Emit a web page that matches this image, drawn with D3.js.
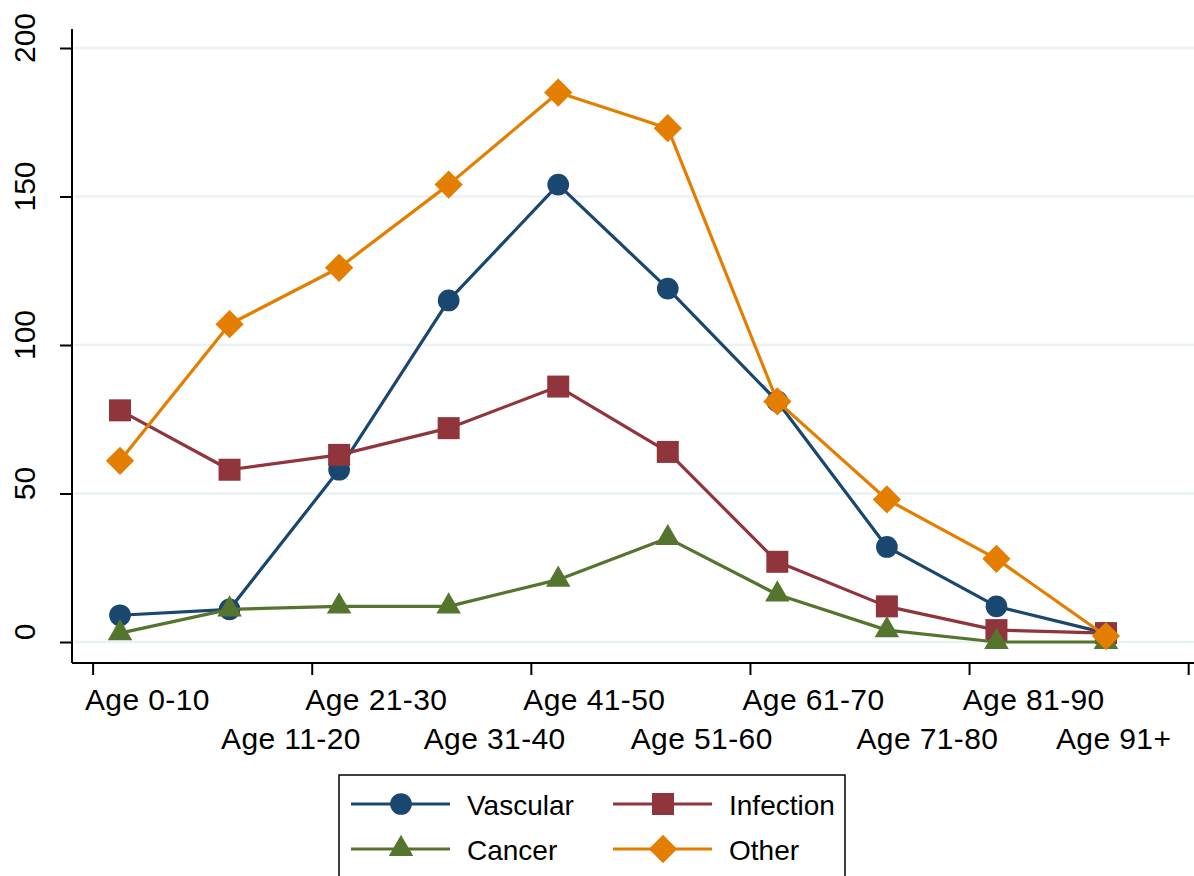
<!DOCTYPE html>
<html><head><meta charset="utf-8">
<script src="https://cdn.jsdelivr.net/npm/d3@7"></script>
<style>body{margin:0;background:#fff}svg{display:block;font-family:"Liberation Sans",Arial,sans-serif}</style>
</head><body>
<script>
const categories = ["Age 0-10","Age 11-20","Age 21-30","Age 31-40","Age 41-50","Age 51-60","Age 61-70","Age 71-80","Age 81-90","Age 91+"];
const vascular  = [9, 11, 58, 115, 154, 119, 81, 32, 12, 3];
const infection = [78, 58, 63, 72, 86, 64, 27, 12, 4, 3];
const cancer    = [3, 11, 12, 12, 21, 35, 16, 4, 0, 0];
const other     = [61, 107, 126, 154, 185, 173, 81, 48, 28, 2];
const yTicks = [0, 50, 100, 150, 200];
const xTicks = [-0.25, 1.75, 3.75, 5.75, 7.75, 9.75];
const xLabelAt = [0.25, 1.56, 2.34, 3.42, 4.33, 5.31, 6.33, 7.37, 8.34, 9.07];

const series = [
  {name:"Vascular", values:vascular, color:"#1a476f", sym:d3.symbolCircle, size:370, rot:0},
  {name:"Infection", values:infection, color:"#90353b", sym:d3.symbolSquare, size:484, rot:0},
  {name:"Cancer", values:cancer, color:"#55752f", sym:d3.symbolTriangle, size:260, rot:0},
  {name:"Other", values:other, color:"#e37e00", sym:d3.symbolSquare, size:400, rot:45}
];

const W=1194,H=876;
const svg=d3.select("body").append("svg").attr("width",W).attr("height",H);
const x=d3.scaleLinear().domain([0,9]).range([120,1106]);
const y=d3.scaleLinear().domain([0,200]).range([642,48]);
const axisX=72, axisY=663;

// gridlines
svg.append("g").selectAll("line").data(yTicks).join("line")
  .attr("x1",axisX+2).attr("x2",W).attr("y1",d=>y(d)).attr("y2",d=>y(d))
  .attr("stroke","#eaf2f3").attr("stroke-width",2.5);

// y axis
const gy=svg.append("g").attr("transform",`translate(${axisX},0)`)
  .call(d3.axisLeft(y).tickValues(yTicks).tickSize(12).tickFormat(""));
gy.select(".domain").attr("d",`M0,29V${axisY}`).attr("stroke","#000").attr("stroke-width",2);
gy.selectAll(".tick line").attr("stroke","#000").attr("stroke-width",2);
svg.append("g").selectAll("text").data(yTicks).join("text")
  .attr("transform",d=>`translate(35,${y(d)-10}) rotate(-90)`)
  .attr("text-anchor","middle").attr("font-size",30).attr("fill","#000").text(d=>d);

// x axis
const gx=svg.append("g").attr("transform",`translate(0,${axisY})`)
  .call(d3.axisBottom(x).tickValues(xTicks).tickSize(12).tickFormat(""));
gx.select(".domain").attr("d",`M${axisX},0H${W}`).attr("stroke","#000").attr("stroke-width",2);
gx.selectAll(".tick line").attr("stroke","#000").attr("stroke-width",2);
svg.append("g").selectAll("text").data(categories).join("text")
  .attr("x",(d,i)=>x(xLabelAt[i])).attr("y",(d,i)=>i%2===0?710:749)
  .attr("text-anchor","middle").attr("font-size",30).attr("letter-spacing",0.4).attr("fill","#000").text(d=>d);

// series
const line=d3.line().x((d,i)=>x(i)).y(d=>y(d));
series.forEach(s=>{
  const g=svg.append("g");
  g.append("path").datum(s.values).attr("d",line).attr("fill","none")
    .attr("stroke",s.color).attr("stroke-width",3.2).attr("stroke-linejoin","round");
  g.selectAll("path.m").data(s.values).join("path").attr("class","m")
    .attr("transform",(d,i)=>`translate(${x(i)},${y(d)}) rotate(${s.rot})`)
    .attr("d",d3.symbol().type(s.sym).size(s.size)).attr("fill",s.color);
});

// legend
const lg=svg.append("g");
lg.append("rect").attr("x",339).attr("y",775).attr("width",506).attr("height",130)
  .attr("fill","#fff").attr("stroke","#000").attr("stroke-width",1.5);
const legPos=[[351,804],[613,804],[351,849],[613,849]];
series.forEach((s,i)=>{
  const [lx,ly]=legPos[i];
  lg.append("line").attr("x1",lx).attr("x2",lx+99).attr("y1",ly).attr("y2",ly)
    .attr("stroke",s.color).attr("stroke-width",3.2);
  lg.append("path").attr("transform",`translate(${lx+50},${ly}) rotate(${s.rot})`)
    .attr("d",d3.symbol().type(s.sym).size(s.size)).attr("fill",s.color);
  lg.append("text").attr("x",lx+116).attr("y",ly+11).attr("font-size",28)
    .attr("fill","#000").text(s.name);
});
</script>
</body></html>
